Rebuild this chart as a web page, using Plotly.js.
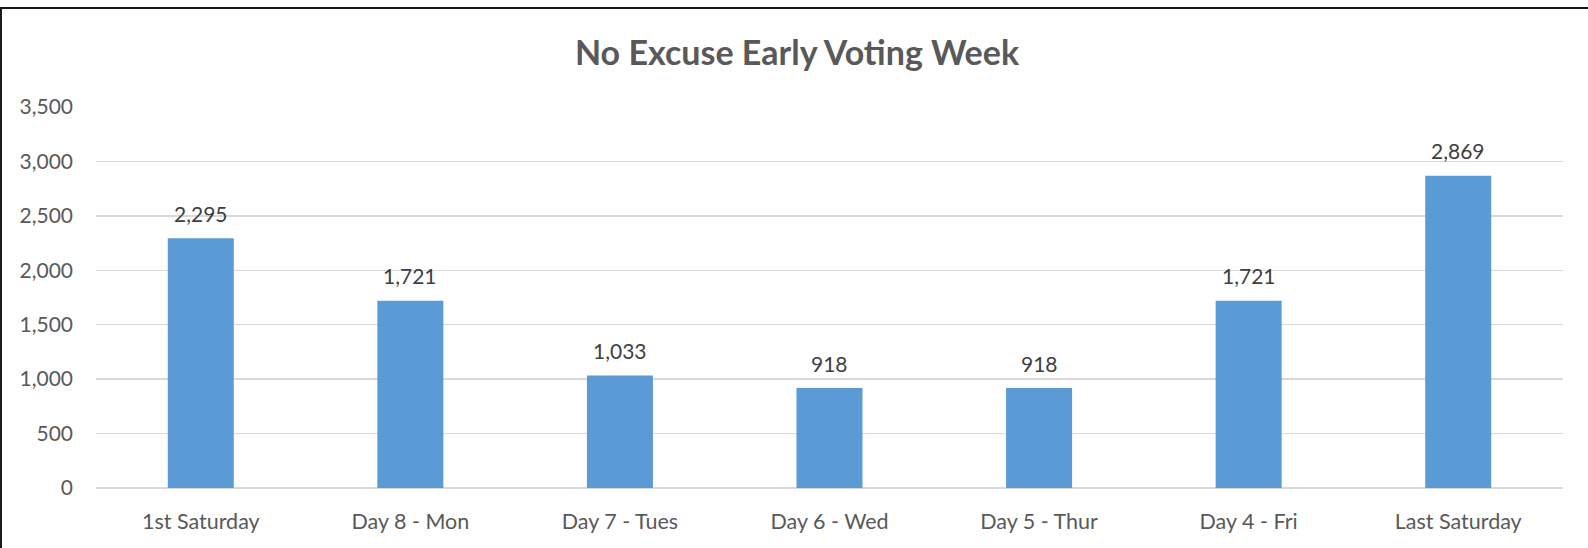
<!DOCTYPE html>
<html>
<head>
<meta charset="utf-8">
<script src="https://cdn.plot.ly/plotly-3.0.1.min.js"></script>
<style>
  html, body { margin: 0; padding: 0; background: #fff; }
  #wrap { position: relative; width: 1588px; height: 548px; }
  #chart { width: 1588px; height: 548px; }
  #frame { position: absolute; left: 0; top: 7px; width: 1588px; height: 541px;
           border-top: 2px solid #1a1a1a; border-left: 2px solid #1a1a1a; box-sizing: border-box; pointer-events: none; }
</style>
</head>
<body>
<div id="wrap">
  <div id="chart"></div>
  <div id="frame"></div>
</div>
<script>
const categories = ["1st Saturday", "Day 8 - Mon", "Day 7 - Tues", "Day 6 - Wed", "Day 5 - Thur", "Day 4 - Fri", "Last Saturday"];
const votes = [2295, 1721, 1033, 918, 918, 1721, 2869];
const tickValues = [0, 500, 1000, 1500, 2000, 2500, 3000, 3500];
const tickLabels = ["0", "500", "1,000", "1,500", "2,000", "2,500", "3,000", "3,500"];
const chartTitle = "No Excuse Early Voting Week";

const FONT = "Lato, Calibri, 'Open Sans', sans-serif";
const GREY = "#595959";

const trace = {
  type: "bar",
  x: categories,
  y: votes,
  marker: { color: "#5B9BD5" },
  hoverinfo: "x+y"
};

const annotations = categories.map((c, i) => ({
  x: c, y: votes[i], xref: "x", yref: "y",
  text: votes[i].toLocaleString("en-US"),
  showarrow: false, yanchor: "middle", yshift: 25,
  font: { family: FONT, size: 21, color: "#404040" }
}));

const layout = {
  width: 1588, height: 548,
  margin: { l: 96, r: 25, t: 107, b: 60 },
  paper_bgcolor: "#fff", plot_bgcolor: "#fff",
  bargap: 0.685,
  showlegend: false,
  title: {
    text: "<b>" + chartTitle + "</b>",
    font: { family: FONT, size: 34, color: GREY },
    x: 797 / 1588, xanchor: "center", xref: "container",
    y: 1 - 53 / 548, yref: "container", yanchor: "middle"
  },
  xaxis: {
    type: "category",
    showgrid: false, showline: false, zeroline: false,
    ticks: "",
    ticklabelstandoff: 18,
    tickfont: { family: FONT, size: 21.5, color: GREY }
  },
  yaxis: {
    range: [0, 3500],
    tickvals: tickValues, ticktext: tickLabels,
    showgrid: true, gridcolor: "#D9D9D9", gridwidth: 1.5,
    zeroline: true, zerolinecolor: "#D9D9D9", zerolinewidth: 1.5,
    showline: false, ticks: "",
    ticklabelstandoff: 22,
    tickfont: { family: FONT, size: 21, color: GREY }
  },
  annotations: annotations
};

Plotly.newPlot("chart", [trace], layout, { displayModeBar: false, staticPlot: true });
</script>
</body>
</html>
